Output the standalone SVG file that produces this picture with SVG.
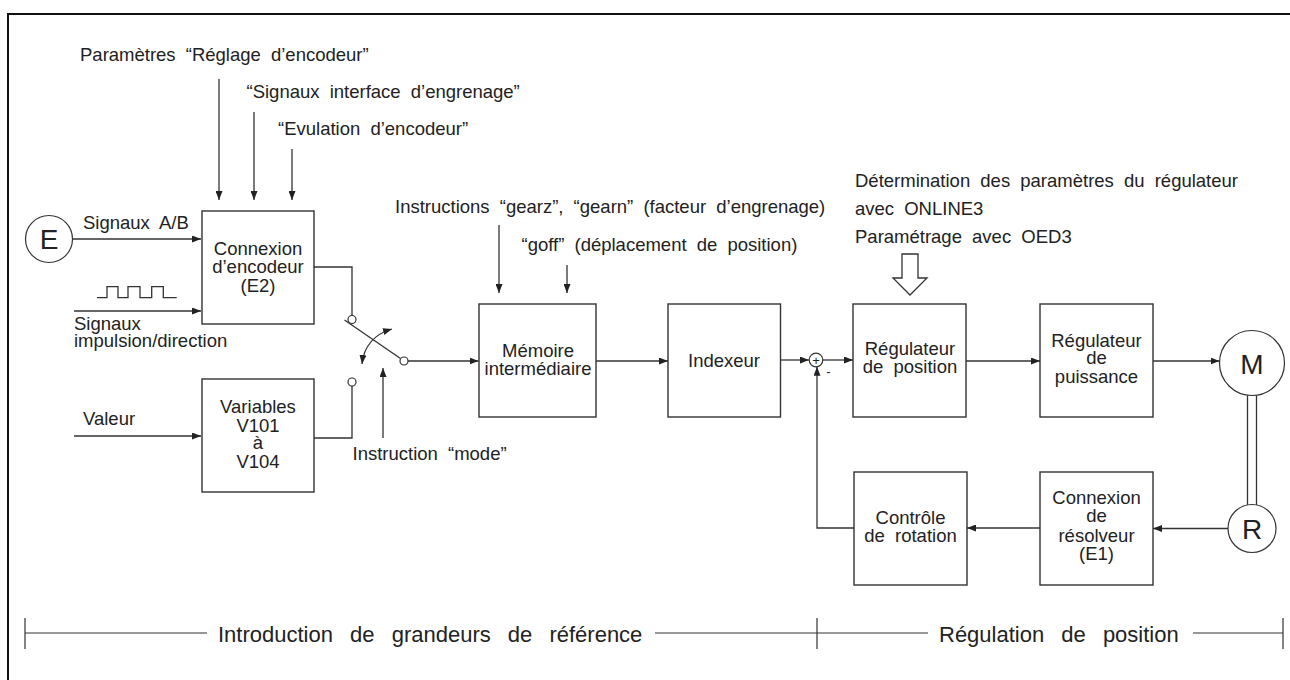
<svg xmlns="http://www.w3.org/2000/svg" width="1290" height="680" viewBox="0 0 1290 680">
  <style>
    text { font-family: "Liberation Sans", Arial, sans-serif; fill: #222; font-size: 18.5px; word-spacing: 5px; }
    .c { text-anchor: middle; }
    .big { font-size: 28px; }
    .sm { font-size: 13px; word-spacing: 0; }
    .scale { font-size: 22px; word-spacing: 11px; }
    .box { fill: #fff; stroke: #333; stroke-width: 1.4; }
    .ln { fill: none; stroke: #333; stroke-width: 1.3; }
    .arr { fill: none; stroke: #333; stroke-width: 1.3; marker-end: url(#ah); }
    .contact { fill: #fff; stroke: #333; stroke-width: 1.2; }
  </style>
  <defs>
    <marker id="ah" viewBox="0 0 9 7" refX="9" refY="3.5" markerWidth="9" markerHeight="7" markerUnits="userSpaceOnUse" orient="auto-start-reverse">
      <path d="M0,0 L9,3.5 L0,7 z" fill="#222"/>
    </marker>
  </defs>
  <rect width="1290" height="680" fill="#fff"/>

  <!-- frame -->
  <path d="M8,680 V14 H1290" fill="none" stroke="#111" stroke-width="2"/>

  <!-- free labels -->
  <g id="labels">
    <text x="80" y="61">Paramètres “Réglage d’encodeur”</text>
    <text x="246.5" y="98">“Signaux interface d’engrenage”</text>
    <text x="278" y="135">“Evulation d’encodeur”</text>
    <text x="83" y="229">Signaux A/B</text>
    <text x="74" y="330">Signaux</text>
    <text x="74" y="346.5">impulsion/direction</text>
    <text x="83" y="425">Valeur</text>
    <text x="352.5" y="460">Instruction “mode”</text>
    <text x="395" y="213">Instructions “gearz”, “gearn” (facteur d’engrenage)</text>
    <text x="521.5" y="250.5">“goff” (déplacement de position)</text>
    <text x="855" y="186.5">Détermination des paramètres du régulateur</text>
    <text x="855" y="215">avec ONLINE3</text>
    <text x="855" y="243">Paramétrage avec OED3</text>
  </g>

  <!-- nodes -->
  <g id="encoder">
    <circle cx="49" cy="239" r="23.5" class="contact"/>
    <text x="49" y="249" class="c big">E</text>
  </g>
  <g id="pulse-signal">
    <polyline class="ln" points="97,297.7 107,297.7 107,286.7 118,286.7 118,297.7 128,297.7 128,286.7 140,286.7 140,297.7 151.7,297.7 151.7,286.7 163.3,286.7 163.3,297.7 176.7,297.7"/>
  </g>
  <g id="connexion-encodeur">
    <rect class="box" x="202" y="211" width="112" height="113"/>
    <text x="258" y="255" class="c">Connexion</text>
    <text x="258" y="272.7" class="c">d’encodeur</text>
    <text x="258" y="291.7" class="c">(E2)</text>
  </g>
  <g id="variables">
    <rect class="box" x="202" y="379" width="112" height="113"/>
    <text x="258" y="413.3" class="c">Variables</text>
    <text x="258" y="431.7" class="c">V101</text>
    <text x="258" y="449.3" class="c">à</text>
    <text x="258" y="468.3" class="c">V104</text>
  </g>
  <g id="memoire">
    <rect class="box" x="479" y="304" width="117" height="113"/>
    <text x="538" y="356.7" class="c">Mémoire</text>
    <text x="538" y="375" class="c">intermédiaire</text>
  </g>
  <g id="indexeur">
    <rect class="box" x="668" y="304" width="112.5" height="113"/>
    <text x="724" y="366.7" class="c">Indexeur</text>
  </g>
  <g id="sum">
    <circle cx="816" cy="360" r="6.8" class="contact"/>
    <text x="816" y="364.5" class="c sm">+</text>
    <text x="828.5" y="376" class="c sm">-</text>
  </g>
  <g id="regulateur-position">
    <rect class="box" x="853" y="304" width="113" height="113"/>
    <text x="910" y="355" class="c">Régulateur</text>
    <text x="910" y="373.3" class="c">de position</text>
  </g>
  <g id="parametrage-arrow">
    <polygon points="902,254 918,254 918,278 927,278 910,295 893,278 902,278" fill="#fff" stroke="#333" stroke-width="1.3"/>
  </g>
  <g id="regulateur-puissance">
    <rect class="box" x="1040" y="304" width="113" height="113"/>
    <text x="1096.5" y="346.7" class="c">Régulateur</text>
    <text x="1096.5" y="364" class="c">de</text>
    <text x="1096.5" y="382.7" class="c">puissance</text>
  </g>
  <g id="moteur">
    <circle cx="1252" cy="363" r="32.5" class="contact"/>
    <text x="1252" y="374" class="c big">M</text>
  </g>
  <g id="resolveur">
    <circle cx="1252" cy="528.5" r="24" class="contact"/>
    <text x="1252" y="538.5" class="c big">R</text>
  </g>
  <g id="connexion-resolveur">
    <rect class="box" x="1040" y="472" width="113" height="113"/>
    <text x="1096.5" y="504" class="c">Connexion</text>
    <text x="1096.5" y="521.7" class="c">de</text>
    <text x="1096.5" y="541.7" class="c">résolveur</text>
    <text x="1096.5" y="560" class="c">(E1)</text>
  </g>
  <g id="controle-rotation">
    <rect class="box" x="854" y="472" width="113" height="113"/>
    <text x="910.5" y="524" class="c">Contrôle</text>
    <text x="910.5" y="542.3" class="c">de rotation</text>
  </g>

  <!-- connectors -->
  <g id="connectors">
    <path class="arr" d="M219,79 V200"/>
    <path class="arr" d="M254,112 V200"/>
    <path class="arr" d="M292,149 V200"/>
    <path class="arr" d="M73,239 H201"/>
    <path class="arr" d="M74,311 H201"/>
    <path class="arr" d="M74,436 H201"/>
    <!-- selector switch -->
    <path class="ln" d="M314,267 H352 V315.5"/>
    <path class="ln" d="M314,438 H352 V386"/>
    <path class="ln" d="M344.5,320 L400.5,358.5"/>
    <circle cx="352" cy="319.5" r="4" class="contact"/>
    <circle cx="352" cy="382" r="4" class="contact"/>
    <circle cx="404" cy="361" r="4" class="contact"/>
    <path class="ln" d="M362,364 Q365,337 392,329" marker-start="url(#ah)" marker-end="url(#ah)"/>
    <path class="arr" d="M383,438 V368"/>
    <path class="arr" d="M408,361 H478.5"/>
    <path class="arr" d="M499,225 V293"/>
    <path class="arr" d="M567,265 V293"/>
    <path class="arr" d="M596,361 H668"/>
    <path class="arr" d="M780.5,360 H809"/>
    <path class="arr" d="M822.8,360 H853"/>
    <path class="arr" d="M854,528 H817 V366.8"/>
    <path class="arr" d="M966,361 H1040"/>
    <path class="arr" d="M1153,361 H1219.5"/>
    <path class="ln" d="M1247.5,395.5 V505 M1256.5,395.5 V505"/>
    <path class="arr" d="M1228,528.5 H1153"/>
    <path class="arr" d="M1040,528 H967"/>
  </g>

  <!-- scope scale -->
  <g id="scale">
    <path d="M25,618 V649 M817,618 V649 M1283,618 V649 M25,633 H207 M655,633 H928 M1193,633 H1283" fill="none" stroke="#333" stroke-width="1.2"/>
    <text x="218" y="641.7" class="scale">Introduction de grandeurs de référence</text>
    <text x="939" y="641.7" class="scale">Régulation de position</text>
  </g>
</svg>
